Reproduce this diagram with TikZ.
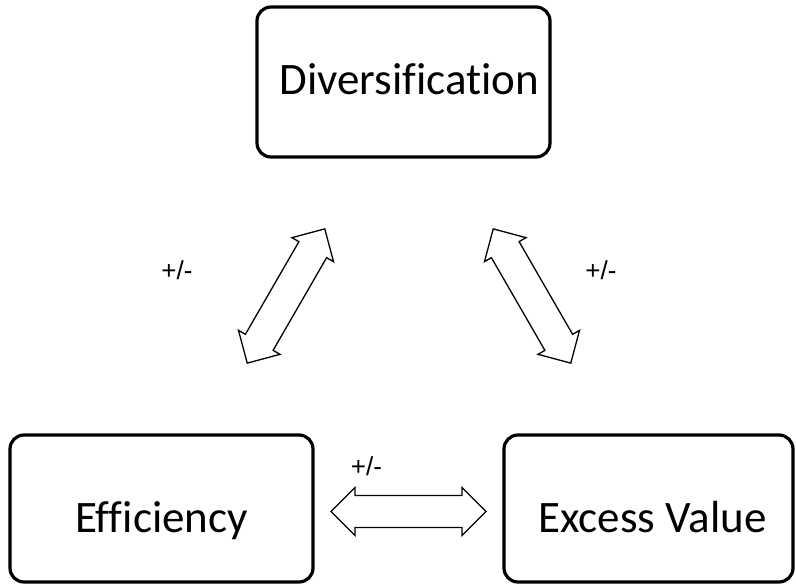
\documentclass[tikz,border=0pt]{standalone}
\usepackage{fontspec}
\setmainfont{Carlito}[Ligatures=NoCommon]
\newfontfamily\labelfont{Liberation Sans}
\tikzset{
  box/.style={draw, line width=3.2pt, rounded corners=14pt, fill=white,
    font=\fontsize{45}{54}\selectfont, inner sep=0pt, text depth=0pt},
  arrowline/.style={draw, line width=1.3pt, line join=miter, fill=white},
  sign/.style={font=\labelfont\fontsize{26}{30}\selectfont, inner sep=0pt},
  % hollow double-headed block arrow, centred at the origin, along x
  dblarrow/.pic={
    \path[arrowline] (77.5,0) -- (53.5,24) -- (53.5,16) -- (-53.5,16)
      -- (-53.5,24) -- (-77.5,0) -- (-53.5,-24) -- (-53.5,-16)
      -- (53.5,-16) -- (53.5,-24) -- cycle;
  }
}
\begin{document}
\begin{tikzpicture}[x=1pt,y=-1pt]
  \useasboundingbox (0,0) rectangle (796,586);

  % the three concepts (leading space nudges the text a little right)
  \node[box, minimum width=293pt, minimum height=150pt, text height=26pt] (div) at (403.5,82) {\hspace*{12pt}Diversification};
  \node[box, minimum width=303pt, minimum height=147pt, text height=47pt] (eff) at (161.5,508.5) {Efficiency};
  \node[box, minimum width=289pt, minimum height=147pt, text height=47pt] (exv) at (648.5,508.5) {\hspace*{8pt}Excess Value};

  % two-way relations between them
  \pic[rotate=60] at (286,296) {dblarrow};
  \pic[rotate=-60] at (532,296) {dblarrow};
  \pic at (408.5,511.5) {dblarrow};

  % sign of each relation
  \node[sign] (sl) at (177,270) {+/-};
  \node[sign] (sr) at (601,270) {+/-};
  \node[sign] (sb) at (366.5,466) {+/-};
\end{tikzpicture}
\end{document}
